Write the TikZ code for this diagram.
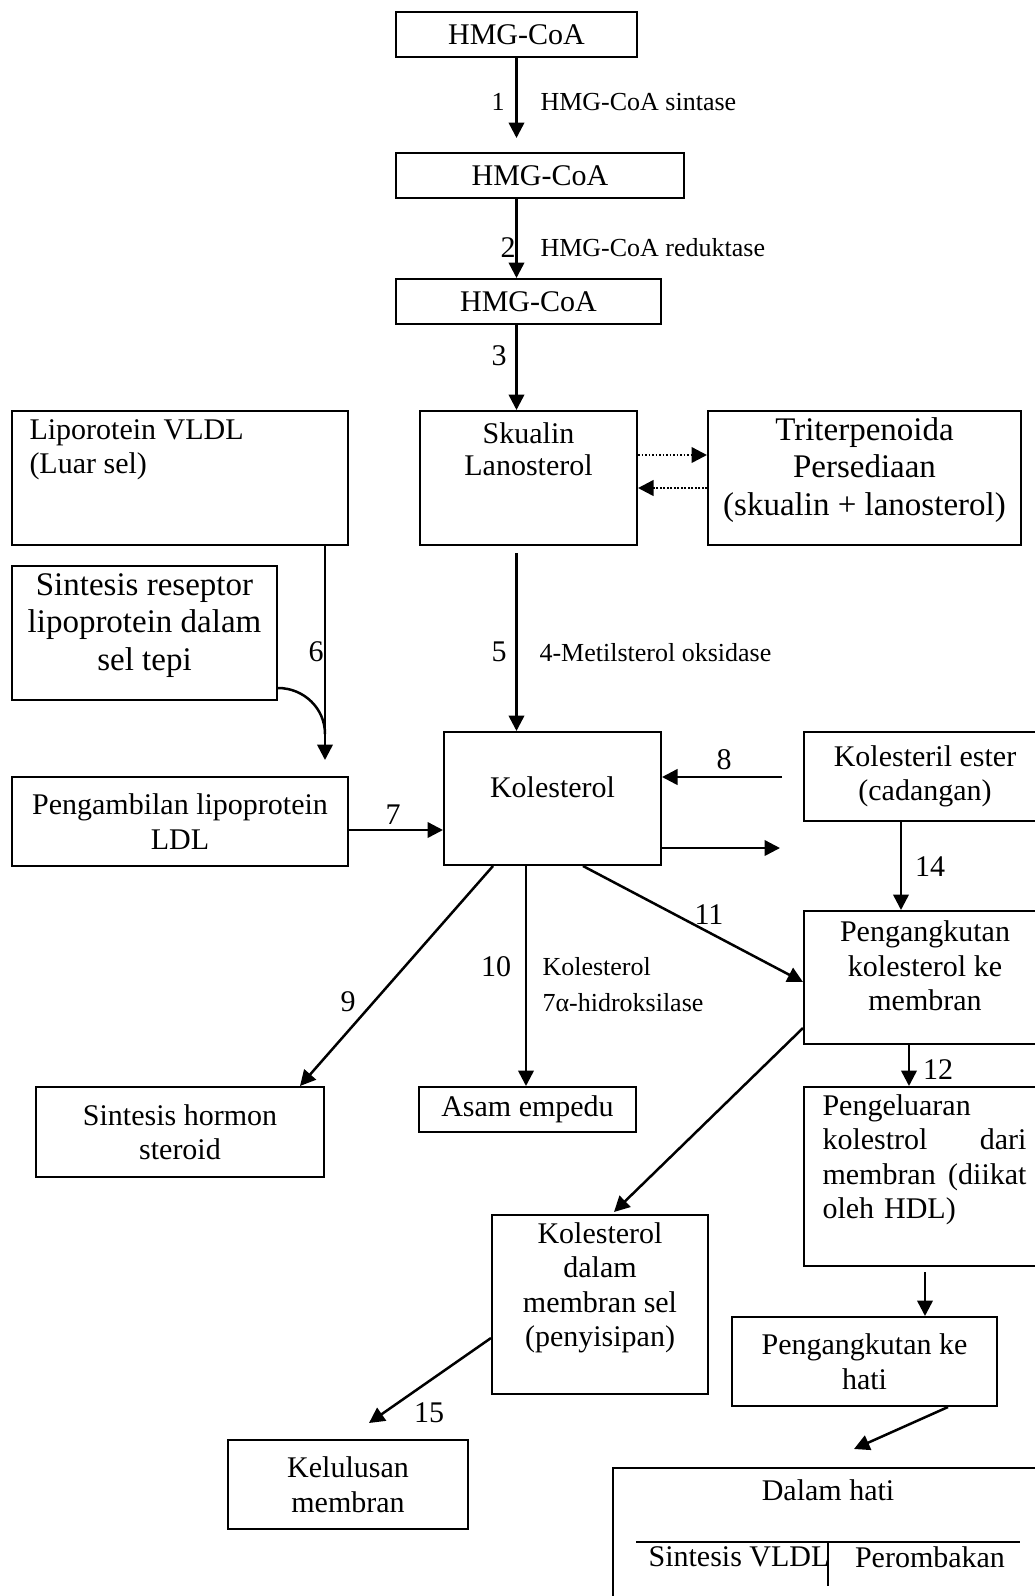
\documentclass[tikz,border=0pt]{standalone}
\usepackage{fontspec}
\setmainfont{Liberation Serif}
\usetikzlibrary{arrows.meta}
\newcommand{\boxfont}{\fontsize{12}{13.8}\selectfont}
\newcommand{\bigfont}{\fontsize{13.2}{15}\selectfont}
\newcommand{\labfont}{\fontsize{10.4}{14.4}\selectfont}

\begin{document}
\begin{tikzpicture}[x=0.4pt, y=-0.4pt,
  box/.style={draw, line width=0.8pt, inner sep=0pt, font=\boxfont, align=center},
  wh/.style 2 args={minimum width=#1*0.4pt, minimum height=#2*0.4pt},
  txt/.style={font=\boxfont, align=center, inner sep=0pt},
  lab/.style={font=\labfont, inner sep=0pt},
  arr/.style={line width=1pt, -{Triangle[length=6.2pt, width=6.2pt]}},
  dots/.style={arr, dash pattern=on 0.7pt off 0.7pt}]
  \useasboundingbox (0,0) rectangle (1035,1596);
  \clip (0,0) rectangle (1035,1596);

  % jalur HMG-CoA
  \node[box, wh={241}{45}] (hmgA) at (516.5,34.5) {HMG-CoA};
  \node[box, wh={288}{45}] (hmgB) at (540,175.5) {HMG-CoA};
  \node[box, wh={265}{45}] (hmgC) at (528.5,301.5) {HMG-CoA};
  \node[box, wh={217}{134}] (skualin) at (528.5,478) {};
  \node[txt, font=\fontsize{12}{12.8}\selectfont] (skualintxt) at (528.5,449) {Skualin\\Lanosterol};
  \node[box, wh={313}{134}] (triterp) at (864.5,478) {};
  \node[txt, font=\bigfont] (triterptxt) at (864.5,470) {Triterpenoida\\Persediaan\\(skualin + lanosterol)};

  % lipoprotein
  \node[box, wh={336}{134}] (lipo) at (180,478) {};
  \node[txt, align=left, anchor=west] (lipotxt) at (29,449.5) {Liporotein VLDL\\(Luar sel)};
  \node[box, wh={265}{134}] (sintrec) at (144.5,633) {};
  \node[txt, font=\bigfont] (sintrectxt) at (144.5,625.5) {Sintesis reseptor\\lipoprotein dalam\\sel tepi};
  \node[box, wh={336}{89}] (ldl) at (180,821.5) {Pengambilan lipoprotein\\LDL};

  % kolesterol
  \node[box, wh={217}{133}] (kol) at (552.5,798.5) {};
  \node[txt] (koltxt) at (552.5,787) {Kolesterol};
  \node[box, wh={242}{89}] (ester) at (925,776.5) {Kolesteril ester\\(cadangan)};
  \node[box, wh={242}{133}] (angkut) at (925,977.5) {};
  \node[txt] (angkuttxt) at (925,966) {Pengangkutan\\kolesterol ke\\membran};
  \node[box, wh={242}{179}] (keluar) at (925,1176.5) {};
  \node[txt, align=left, anchor=west, text width=81.6pt] (keluartxt) at (822,1160)
    {Pengeluaran\\kolestrol\hfill dari\\membran\hfill (diikat\\oleh HDL)};
  \node[box, wh={288}{90}] (hormon) at (180,1132) {Sintesis hormon\\steroid};
  \node[box, wh={217}{45}] (asam) at (527.5,1109.5) {Asam empedu};

  % membran dan hati
  \node[box, wh={216}{179}] (dalmem) at (600,1304.5) {};
  \node[txt] (dalmemtxt) at (600,1288) {Kolesterol\\dalam\\membran sel\\(penyisipan)};
  \node[box, wh={240}{89}] (lulus) at (348,1484.5) {Kelulusan\\membran};
  \node[box, wh={265}{89}] (kehati) at (864.5,1361.5) {Pengangkutan ke\\hati};
  \node[box, wh={433}{172}] (dalhati) at (829.5,1554) {};
  \node[txt] (dalhatitxt) at (828,1490) {Dalam hati};
  \draw[line width=0.8pt] (636,1542) -- (1020,1542);
  \draw[line width=0.8pt] (828,1542) -- (828,1586);
  \node[txt] (vldl) at (739,1557) {Sintesis VLDL};
  \node[txt] (rombak) at (930,1557) {Perombakan};

  % panah
  \draw[arr] (hmgA.south) -- ++(0,80);
  \draw[arr] (hmgB.south -| hmgA.south) -- (hmgC.north -| hmgA.south);
  \draw[arr] (hmgC.south -| hmgA.south) -- (skualin.north -| hmgA.south);
  \draw[arr, shorten <=2.8pt] (skualin.south -| hmgA.south) -- (kol.north -| hmgA.south);
  \draw[dots] ([yshift=9.2pt]skualin.east) -- ([yshift=9.2pt]triterp.west);
  \draw[dots] ([yshift=-4pt]triterp.west) -- ([yshift=-4pt]skualin.east);
  \draw[arr] ([xshift=-9.6pt]lipo.south east) -- ([xshift=-9.6pt,yshift=6.4pt]ldl.north east);
  \draw[line width=1pt] ([yshift=5.2pt]sintrec.south east) to[out=0, in=90] ++(47,46);
  \coordinate (p7) at ([yshift=-3.4pt]ldl.east);
  \draw[arr] (p7) -- (p7 -| kol.west);
  \coordinate (esterin) at (782,777);
  \draw[arr] (esterin) -- (esterin -| kol.east);
  \coordinate (keluarkan) at (780,848);
  \draw[arr] (keluarkan -| kol.east) -- (keluarkan);
  \draw[arr] ([xshift=-9.6pt]ester.south) -- ([xshift=-9.6pt]angkut.north);
  \draw[arr] ([xshift=12.2pt]kol.south) -- ([yshift=-1.8pt]angkut.west);
  \draw[arr] ([xshift=-10.6pt]kol.south) -- ([xshift=-10.6pt]kol.south |- asam.north);
  \draw[arr] ([xshift=-23.8pt]kol.south) -- ([xshift=48pt]hormon.north);
  \draw[arr] ([xshift=-6.4pt]angkut.south) -- ([xshift=-6.4pt]keluar.north);
  \draw[arr] ([yshift=-20.2pt]angkut.west) -- ([xshift=5.6pt,yshift=0.8pt]dalmem.north);
  \draw[arr] ([yshift=-13.4pt]dalmem.west) -- ([xshift=8.4pt,yshift=6.4pt]lulus.north);
  \draw[arr] ([yshift=-2pt]keluar.south) -- (keluar.south |- kehati.north);
  \draw[arr] ([xshift=33.4pt]kehati.south) -- ([xshift=9.8pt,yshift=7.2pt]dalhati.north);

  % nomor dan enzim
  \node[lab] (n1) at (498,102) {1};
  \node[lab, anchor=west] (e1) at (540,102) {HMG-CoA sintase};
  \node[txt] (n2) at (508,248) {2};
  \node[lab, anchor=west] (e2) at (540,248) {HMG-CoA reduktase};
  \node[txt] (n3) at (499,356) {3};
  \node[txt] (n5) at (499,652) {5};
  \node[lab, anchor=west] (e5) at (539,653) {4-Metilsterol oksidase};
  \node[txt] (n6) at (316,652) {6};
  \node[txt] (n7) at (393,815) {7};
  \node[txt] (n8) at (724,760) {8};
  \node[txt] (n9) at (348,1002) {9};
  \node[txt] (n10) at (496,967) {10};
  \node[lab, align=left, anchor=west] (e10) at (542,985) {Kolesterol\\7α-hidroksilase};
  \node[txt] (n11) at (709,915) {11};
  \node[txt] (n12) at (938,1070) {12};
  \node[txt] (n14) at (930,867) {14};
  \node[txt] (n15) at (429,1413) {15};
\end{tikzpicture}
\end{document}
